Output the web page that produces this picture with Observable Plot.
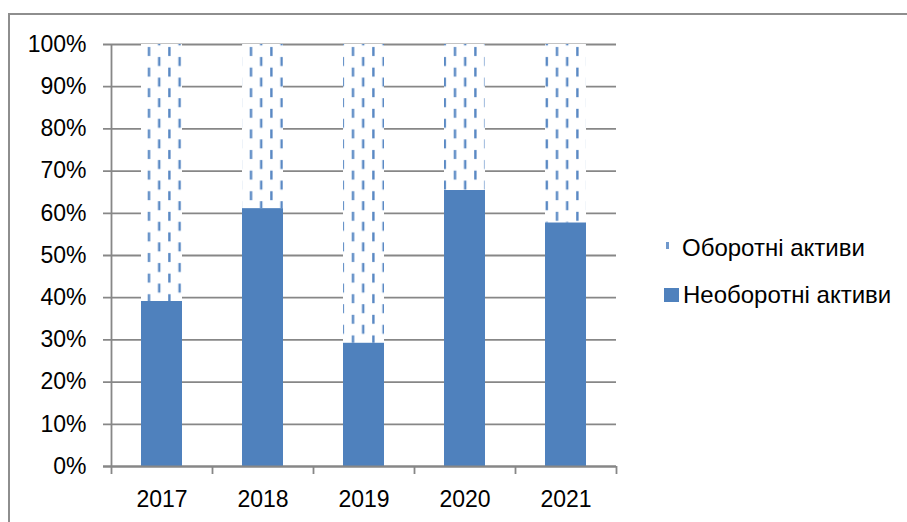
<!DOCTYPE html>
<html><head><meta charset="utf-8">
<script src="https://cdn.jsdelivr.net/npm/d3@7"></script>
<script src="https://cdn.jsdelivr.net/npm/@observablehq/plot@0.6"></script>
<style>
html,body{margin:0;padding:0;background:#fff;overflow:hidden;}
#wrap{position:relative;width:907px;height:522px;overflow:hidden;font-family:"Liberation Sans",Arial,sans-serif;}
#border{position:absolute;left:8px;top:13px;width:1200px;height:1200px;border:2px solid #8e8e8e;pointer-events:none;}
.leg{position:absolute;font-size:24px;line-height:24px;color:#000;white-space:nowrap;}
.key{position:absolute;}
</style></head><body>
<div id="wrap"><div id="chart"></div><div id="border"></div><div id="legend"></div></div>
<script>
const years = ["2017", "2018", "2019", "2020", "2021"];
const nonCurrent = [39.1, 61.1, 29.2, 65.4, 57.7];   // Необоротні активи, %
const current = [60.9, 38.9, 70.8, 34.6, 42.3];      // Оборотні активи, %
const seriesNames = ["Оборотні активи", "Необоротні активи"];
const yTicks = [0, 10, 20, 30, 40, 50, 60, 70, 80, 90, 100];

const rows = years.map((y, i) => ({year: y, non: nonCurrent[i], cur: current[i]}));
const gray = "#878787";
const blue = "#4f81bd";

const plot = Plot.plot({
  width: 907,
  height: 522,
  marginLeft: 111,
  marginRight: 291,
  marginTop: 44,
  marginBottom: 56,
  style: {fontFamily: "Liberation Sans, Arial, sans-serif", fontSize: "23px", color: "#000", background: "transparent"},
  x: {domain: years, paddingInner: 0.594, paddingOuter: 0.297, align: 0.5, label: null},
  y: {domain: [0, 100], label: null},
  marks: [
    Plot.ruleY(yTicks, {stroke: gray, strokeWidth: 1.8, insetLeft: -8}),
    Plot.barY(rows, {x: "year", y1: "non", y2: d => d.non + d.cur, fill: "url(#dashPattern)"}),
    Plot.barY(rows, {x: "year", y1: 0, y2: "non", fill: blue}),
    Plot.ruleY([0], {stroke: gray, strokeWidth: 1.8, insetLeft: -8}),
    Plot.ruleX([years[0]], {y1: 100, y2: 0, insetBottom: -8, dx: -50.5, stroke: gray, strokeWidth: 1.8}),
    Plot.ruleX(years.slice(1), {y1: 0, y2: 0, insetBottom: -8, dx: -50.5, stroke: gray, strokeWidth: 1.8}),
    Plot.ruleX([years[years.length - 1]], {y1: 0, y2: 0, insetBottom: -8, dx: 50.5, stroke: gray, strokeWidth: 1.8}),
    Plot.axisY(yTicks, {tickSize: 0, tickPadding: 25, tickFormat: d => d + "%", fontSize: 23, fill: "#000", label: null}),
    Plot.axisX({tickSize: 0, tickPadding: 24, fontSize: 23, fill: "#000", label: null})
  ]
});

const ns = "http://www.w3.org/2000/svg";
const defs = document.createElementNS(ns, "defs");
defs.innerHTML =
  '<pattern id="dashPattern" patternUnits="userSpaceOnUse" width="20.4" height="20.6">' +
  '<rect width="20.4" height="20.6" fill="#fff"/>' +
  '<rect x="5" y="5.8" width="2.4" height="9" fill="#5a89c4"/>' +
  '<rect x="15.2" y="15.8" width="2.4" height="9" fill="#5a89c4"/>' +
  '<rect x="15.2" y="-4.8" width="2.4" height="9" fill="#5a89c4"/>' +
  '</pattern>';
plot.insertBefore(defs, plot.firstChild);
document.getElementById("chart").appendChild(plot);

const legend = document.getElementById("legend");
const items = [
  {name: seriesNames[0], key: {left: 666, top: 242, width: 2.5, height: 7, background: "#6f98cc"}, text: {left: 682, top: 236.4}},
  {name: seriesNames[1], key: {left: 664, top: 288, width: 15, height: 14, background: blue}, text: {left: 683, top: 283}}
];
for (const it of items) {
  const k = document.createElement("div");
  k.className = "key";
  Object.assign(k.style, {left: it.key.left + "px", top: it.key.top + "px", width: it.key.width + "px", height: it.key.height + "px", background: it.key.background});
  legend.appendChild(k);
  const t = document.createElement("div");
  t.className = "leg";
  t.textContent = it.name;
  Object.assign(t.style, {left: it.text.left + "px", top: it.text.top + "px"});
  legend.appendChild(t);
}
</script>
</body></html>
